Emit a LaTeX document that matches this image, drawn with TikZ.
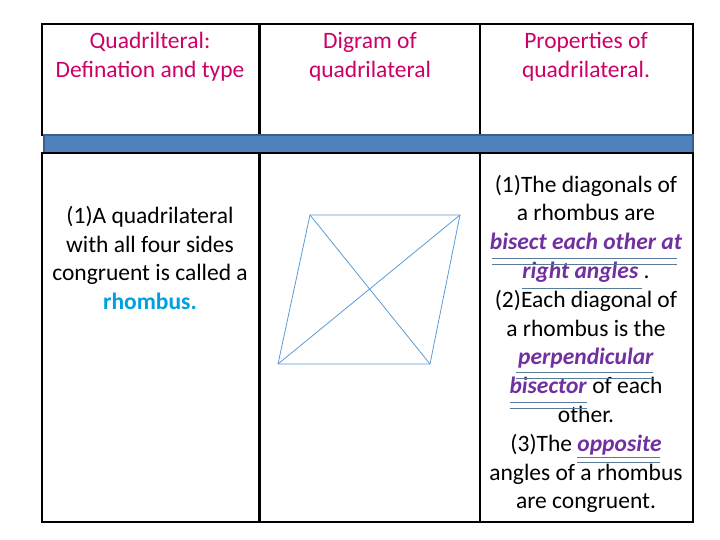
\documentclass[tikz,border=0pt]{standalone}
\usepackage{fontspec}
\setmainfont{Carlito}
\definecolor{hdr}{HTML}{CC0066}
\definecolor{pur}{HTML}{7030A0}
\definecolor{cy}{HTML}{00A0E0}
\definecolor{ul}{HTML}{5A7A9A}
\definecolor{barf}{HTML}{4F81BD}
\definecolor{bard}{HTML}{3A5F8A}
\definecolor{rh}{HTML}{5B9BD5}
\tikzset{
  cell/.style={draw=black,line width=1.5pt},
  thick cell/.style={draw=black,line width=3pt},
  txt/.style={align=center,font=\fontsize{23.5}{28.8}\selectfont},
  head/.style={txt,text=hdr},
  ulline/.style={draw=ul,line width=0.6pt},
  rhl/.style={draw=rh,line width=0.8pt}
}
\begin{document}
\begin{tikzpicture}[x=1pt,y=-1pt]
\useasboundingbox (0,0) rectangle (720,540);
% header cells
\draw[cell] (42,24) rectangle (259,135);
\draw[cell] (259,24) rectangle (480,135);
\draw[cell] (480,24) rectangle (693,135);
\draw[thick cell] (259,24) -- (259,135);
% bar
\fill[barf,draw=bard,line width=1.5pt] (44,135) rectangle (693,153);
% body cells
\draw[cell] (42,153) rectangle (259,522);
\draw[cell] (259,153) rectangle (480,522);
\draw[cell] (480,153) rectangle (693,522);
\draw[thick cell] (259,153) -- (259,522);
% headers
\node[head] (h1) at (150,57) {Quadrilteral:\\Defination and type};
\node[head] (h2) at (370,57) {Digram of\\quadrilateral};
\node[head] (h3) at (586,57) {Properties of\\quadrilateral.};
% left text
\node[txt] (t1) at (150,258) {(1)A quadrilateral\\with all four sides\\congruent is called a\\\textcolor{cy}{\textbf{rhombus.}}};
% rhombus
\coordinate (a) at (278,364);
\coordinate (b) at (310,215);
\coordinate (c) at (460,215);
\coordinate (d) at (430,364);
\draw[rhl] (a) -- (b) -- (c) -- (d) -- cycle;
\draw[rhl] (a) -- (c);
\draw[rhl] (b) -- (d);
% right text
\node[txt] (t3) at (586,344) {(1)The diagonals of\\a rhombus are\\\textcolor{pur}{\textbf{\textit{bisect each other at}}}\\\textcolor{pur}{\textbf{\textit{right angles}}} .\\(2)Each diagonal of\\a rhombus is the\\\textcolor{pur}{\textbf{\textit{perpendicular}}}\\\textcolor{pur}{\textbf{\textit{bisector}}} of each\\other.\\(3)The \textcolor{pur}{\textbf{\textit{opposite}}}\\angles of a rhombus\\are congruent.};
% underlines
\draw[ulline] (492,258) -- (677,258); \draw[ulline] (492,264) -- (677,264);
\draw[ulline] (522,288) -- (642,288);
\draw[ulline] (516,372) -- (653,372); \draw[ulline] (516,378) -- (653,378);
\draw[ulline] (510,402) -- (587,402); \draw[ulline] (510,408) -- (587,408);
\draw[ulline] (577,457) -- (660,457); \draw[ulline] (577,462) -- (660,462);
\end{tikzpicture}
\end{document}
